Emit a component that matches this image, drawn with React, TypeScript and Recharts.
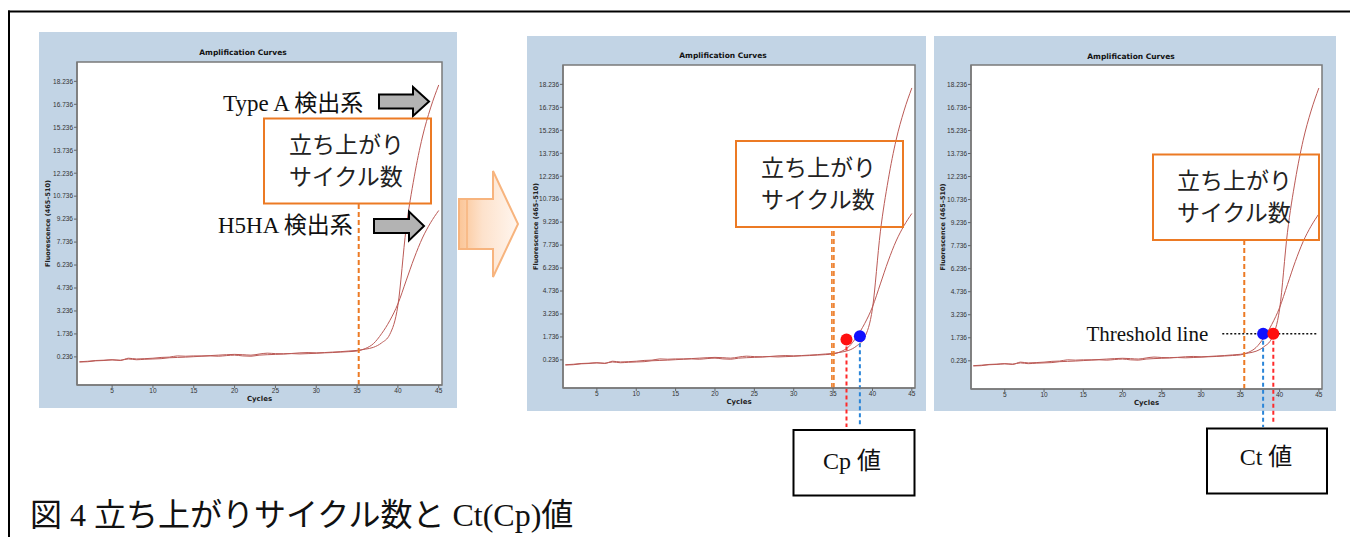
import { LineChart, Line, XAxis, YAxis, ReferenceLine, ReferenceDot, ReferenceArea, CartesianGrid, Label } from 'recharts';

const cycles = [1, 2, 3, 4, 5, 6, 7, 8, 9, 10, 11, 12, 13, 14, 15, 16, 17, 18, 19, 20, 21, 22, 23, 24, 25, 26, 27, 28, 29, 30, 31, 32, 33, 34, 35, 36, 37, 38, 39, 40, 41, 42, 43, 44, 45];
const typeA = [-0.08, -0.05, 0.0, 0.02, 0.05, 0.0, 0.15, 0.1, 0.12, 0.15, 0.2, 0.22, 0.3, 0.28, 0.3, 0.3, 0.32, 0.35, 0.38, 0.4, 0.38, 0.35, 0.42, 0.48, 0.45, 0.44, 0.46, 0.5, 0.52, 0.5, 0.52, 0.55, 0.58, 0.62, 0.66, 0.74, 0.86, 1.15, 1.7, 3.6, 8.6, 12.0, 14.6, 16.5, 18.0];
const h5ha = [-0.1, -0.08, -0.02, 0.0, 0.04, 0.02, 0.1, 0.05, 0.08, 0.1, 0.12, 0.18, 0.2, 0.22, 0.25, 0.28, 0.3, 0.28, 0.32, 0.35, 0.3, 0.28, 0.35, 0.38, 0.4, 0.42, 0.45, 0.43, 0.45, 0.47, 0.5, 0.52, 0.55, 0.58, 0.62, 0.78, 1.1, 1.75, 2.6, 3.7, 5.2, 6.7, 8.0, 9.0, 9.8];
const xTicks = [5, 10, 15, 20, 25, 30, 35, 40, 45];
const yTicks = [0.236, 1.736, 3.236, 4.736, 6.236, 7.736, 9.236, 10.736, 12.236, 13.736, 15.236, 16.736, 18.236];

// rise cycle marker (orange dashed) per panel, and where it meets the box
const riseCycles = [[35.2], [34.85, 35.1], [35.5]];
const riseTop = [10.25, 8.91, 8.13];
// Cp points, panel 2
const cpCycles = [36.7, 38.4];
const cpValues = [1.57, 1.78];
const cpColors = ['#ff1010', '#1010ff'];
const cpDropColors = ['#ff2a2a', '#2a85d8'];
// Ct points on the threshold, panel 3
const threshold = 2.0;
const thresholdRange = [32.7, 44.7];
const ctCycles = [37.9, 39.2];
const ctColors = ['#1010ff', '#ff1010'];
const ctDropColors = ['#2a85d8', '#ff2a2a'];

const data = cycles.map((c, i) => ({ cycle: c, typeA: typeA[i], h5ha: h5ha[i] }));

const X_DOMAIN = [0.7, 45.4];
const Y_DOMAIN = [-1.6, 19.5];
const CURVE = '#bb5a56';
const ORANGE = '#ec7a24';
const SERIF = "'Liberation Serif', 'Noto Sans CJK JP', serif";

interface PanelProps {
  left: number;
  top: number;
  width: number;
  height: number;
  margin: { top: number; right: number; bottom: number; left: number };
  yLabelOffset: number;
  children?: React.ReactNode;
}

function AmpPanel({ left, top, width, height, margin, yLabelOffset, children }: PanelProps) {
  return (
    <div style={{ position: 'absolute', left, top, width, height, background: '#c2d4e5' }}>
      <LineChart width={width} height={height} data={data} margin={margin}>
        <CartesianGrid horizontal={false} vertical={false} fill="#ffffff" />
        <XAxis
          dataKey="cycle" type="number" domain={X_DOMAIN} ticks={xTicks} allowDataOverflow
          height={16} tickSize={3} tickMargin={0}
          tick={{ fontSize: 6.5, fill: '#333', fontFamily: 'Liberation Sans' }}
          axisLine={{ stroke: '#7a7a7a', strokeWidth: 1.5 }} tickLine={{ stroke: '#666' }}
        >
          <Label value="Cycles" position="insideBottom" offset={0}
            style={{ fontSize: 7, fontWeight: 'bold', fill: '#222', fontFamily: 'DejaVu Sans' }} />
        </XAxis>
        <YAxis
          type="number" domain={Y_DOMAIN} ticks={yTicks} allowDataOverflow interval={0}
          width={30} tickSize={3} tickMargin={1}
          tickFormatter={(v: number) => v.toFixed(3)}
          tick={{ fontSize: 6.5, fill: '#333', fontFamily: 'Liberation Sans' }}
          axisLine={{ stroke: '#7a7a7a', strokeWidth: 1.5 }} tickLine={{ stroke: '#666' }}
        >
          <Label value="Fluorescence (465–510)" angle={-90} position="insideLeft" offset={yLabelOffset}
            style={{ fontSize: 6.5, fontWeight: 'bold', fill: '#222', textAnchor: 'middle', fontFamily: 'DejaVu Sans' }} />
        </YAxis>
        <ReferenceArea x1={X_DOMAIN[0]} x2={X_DOMAIN[1]} y1={Y_DOMAIN[0]} y2={Y_DOMAIN[1]}
          fill="none" stroke="#7a7a7a" strokeWidth={1.5} ifOverflow="visible" />
        <Line type="monotone" dataKey="typeA" stroke={CURVE} strokeWidth={1} dot={false} isAnimationActive={false} />
        <Line type="monotone" dataKey="h5ha" stroke={CURVE} strokeWidth={1} dot={false} isAnimationActive={false} />
        {children}
      </LineChart>
    </div>
  );
}

function riseLines(panel: number) {
  return riseCycles[panel].map((c) => (
    <ReferenceLine key={`r${c}`} segment={[{ x: c, y: Y_DOMAIN[0] }, { x: c, y: riseTop[panel] }]}
      stroke={ORANGE} strokeWidth={panel === 1 ? 1.6 : 2} strokeDasharray="5 3" ifOverflow="visible" />
  ));
}

const arrowPts = (x0: number, x1: number, tip: number, cy: number, sh: number, hh: number) =>
  `${x0},${cy - sh} ${x1},${cy - sh} ${x1},${cy - hh} ${tip},${cy} ${x1},${cy + hh} ${x1},${cy + sh} ${x0},${cy + sh}`;

export default function App() {
  return (
    <div style={{ position: 'absolute', left: 0, top: 0, width: 1350, height: 537, background: '#fff', overflow: 'hidden' }}>
      <style>{'.recharts-surface{overflow:visible}'}</style>

      <AmpPanel left={39} top={32} width={418} height={376}
        margin={{ top: 30, right: 15, bottom: 7, left: 8 }} yLabelOffset={1}>
        {riseLines(0)}
      </AmpPanel>

      <AmpPanel left={527} top={36} width={399} height={375}
        margin={{ top: 29, right: 11, bottom: 7, left: 6 }} yLabelOffset={3}>
        {riseLines(1)}
        {cpCycles.map((c, i) => (
          <ReferenceLine key={`cpl${i}`} segment={[{ x: c, y: cpValues[i] }, { x: c, y: -4.15 }]}
            stroke={cpDropColors[i]} strokeWidth={2} strokeDasharray="4 3" ifOverflow="visible" />
        ))}
        {cpCycles.map((c, i) => (
          <ReferenceDot key={`cpd${i}`} x={c} y={cpValues[i]} r={6} fill={cpColors[i]} stroke="none" ifOverflow="visible" />
        ))}
      </AmpPanel>

      <AmpPanel left={934} top={36} width={402} height={375}
        margin={{ top: 29, right: 14, bottom: 6, left: 7 }} yLabelOffset={2}>
        {riseLines(2)}
        <ReferenceLine segment={[{ x: thresholdRange[0], y: threshold }, { x: thresholdRange[1], y: threshold }]}
          stroke="#111" strokeWidth={1.6} strokeDasharray="2 2" ifOverflow="visible">
          <Label value="Threshold line" position="left" offset={14}
            style={{ fontSize: 21, fill: '#111', fontFamily: SERIF }} />
        </ReferenceLine>
        {ctCycles.map((c, i) => (
          <ReferenceLine key={`ctl${i}`} segment={[{ x: c, y: threshold }, { x: c, y: i === 0 ? -4.07 : -3.74 }]}
            stroke={ctDropColors[i]} strokeWidth={2} strokeDasharray="4 3" ifOverflow="visible" />
        ))}
        {ctCycles.map((c, i) => (
          <ReferenceDot key={`ctd${i}`} x={c} y={threshold} r={6} fill={ctColors[i]} stroke="none" ifOverflow="visible" />
        ))}
      </AmpPanel>

      <svg width={1350} height={537} style={{ position: 'absolute', left: 0, top: 0, pointerEvents: 'none' }}>
        <defs>
          <linearGradient id="bigArrow" x1="0" x2="1" y1="0" y2="0">
            <stop offset="0" stopColor="#fbc596" />
            <stop offset="0.4" stopColor="#fde2cc" />
            <stop offset="1" stopColor="#fff6ef" />
          </linearGradient>
        </defs>
        {/* frame */}
        <line x1={8} y1={11.5} x2={1350} y2={11.5} stroke="#000" strokeWidth={2} />
        <line x1={9} y1={10.5} x2={9} y2={537} stroke="#000" strokeWidth={2} />

        {/* titles */}
        {[[243, 52], [723, 55], [1131, 56]].map(([x, y], i) => (
          <text key={i} x={x} y={y} textAnchor="middle" dominantBaseline="central"
            style={{ fontSize: 7.5, fontWeight: 'bold', fontFamily: 'DejaVu Sans', fill: '#111' }}>Amplification Curves</text>
        ))}

        {/* panel 1 labels */}
        <text x={223} y={103} dominantBaseline="central" style={{ fontSize: 23, fontFamily: SERIF, fill: '#111' }}>Type A 検出系</text>
        <text x={218} y={225} dominantBaseline="central" style={{ fontSize: 23, fontFamily: SERIF, fill: '#111' }}>H5HA 検出系</text>
        <polygon points={arrowPts(379, 413, 429, 101.5, 7, 14.5)} fill="#b3b3b3" stroke="#000" strokeWidth={2} />
        <polygon points={arrowPts(374, 409, 424, 226, 7, 14.5)} fill="#b3b3b3" stroke="#000" strokeWidth={2} />

        {/* orange boxes */}
        {[[264, 118.5, 167, 85, 289, 145], [736, 141, 167, 86, 761, 168], [1153, 154.5, 166, 85.5, 1177, 181]].map(([x, y, w, h, tx, ty], i) => (
          <g key={i}>
            <rect x={x} y={y} width={w} height={h} fill="none" stroke={ORANGE} strokeWidth={2} />
            <text x={tx} y={ty} dominantBaseline="central" style={{ fontSize: 23, fontFamily: SERIF, fill: '#222' }}>立ち上がり</text>
            <text x={tx} y={ty + 32} dominantBaseline="central" style={{ fontSize: 23, fontFamily: SERIF, fill: '#222' }}>サイクル数</text>
          </g>
        ))}

        {/* big transition arrow */}
        <polygon points={arrowPts(459, 493, 518, 224, 25, 53)} fill="url(#bigArrow)" stroke="#f7b47e" strokeWidth={2} />
        <line x1={467} y1={199} x2={467} y2={249} stroke="#f7b47e" strokeWidth={1.5} />

        {/* Cp / Ct boxes */}
        <rect x={793.5} y={430} width={121} height={65.5} fill="#fff" stroke="#000" strokeWidth={2} />
        <text x={852} y={461} textAnchor="middle" dominantBaseline="central" style={{ fontSize: 24, fontFamily: SERIF, fill: '#111' }}>Cp 値</text>
        <rect x={1207} y={428.5} width={120} height={65} fill="#fff" stroke="#000" strokeWidth={2} />
        <text x={1266} y={457} textAnchor="middle" dominantBaseline="central" style={{ fontSize: 24, fontFamily: SERIF, fill: '#111' }}>Ct 値</text>

        {/* caption */}
        <text x={30} y={515} dominantBaseline="central" style={{ fontSize: 32, fontFamily: SERIF, fill: '#111' }}>図 4 立ち上がりサイクル数と Ct(Cp)値</text>
      </svg>
    </div>
  );
}
